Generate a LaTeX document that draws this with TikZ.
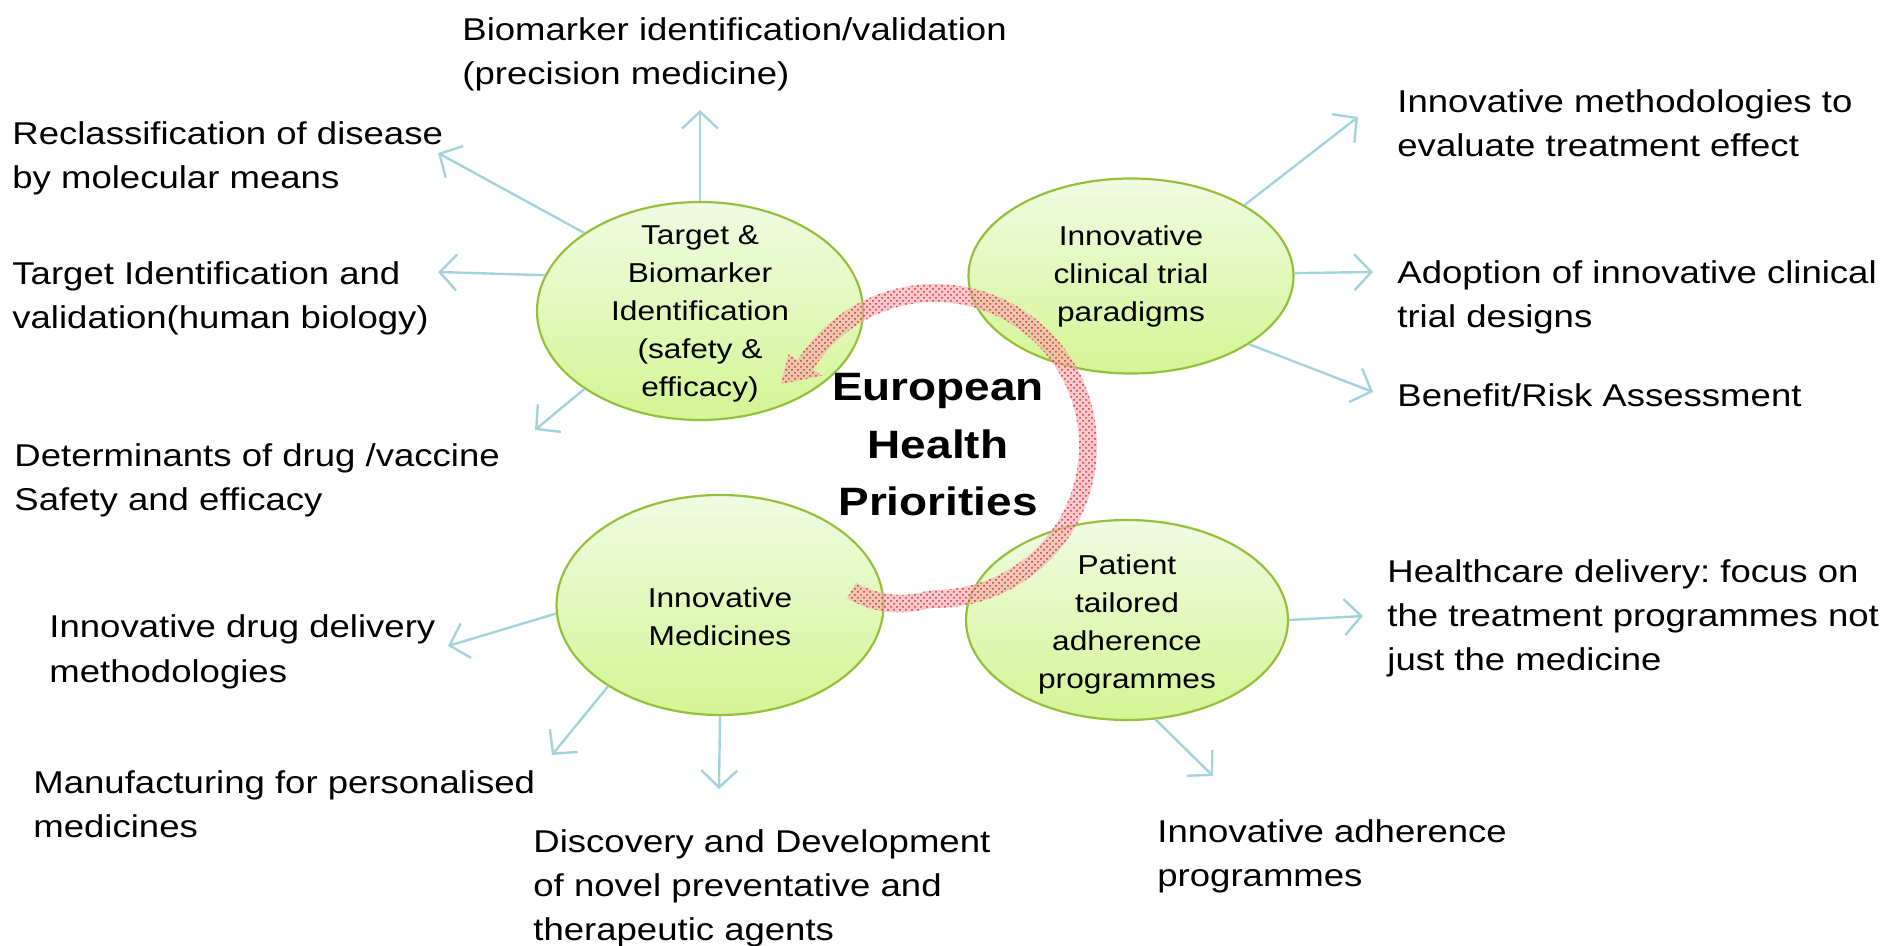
\documentclass[tikz,border=0pt]{standalone}
\usepackage{fontspec}
\setmainfont[FakeStretch=1.16]{Liberation Sans}
\usetikzlibrary{arrows.meta,shapes.geometric,patterns}
\frenchspacing
\definecolor{arrowblue}{RGB}{165,211,220}
\definecolor{ellborder}{RGB}{150,192,60}
\definecolor{elltop}{RGB}{240,251,226}
\definecolor{ellbot}{RGB}{212,245,148}
\definecolor{bandpink}{RGB}{244,170,175}
\definecolor{banddot}{RGB}{228,40,50}
\begin{document}
\begin{tikzpicture}[x=0.5pt,y=-0.5pt,
  ell/.style={ellipse,draw=ellborder,line width=1.1pt,top color=elltop,bottom color=ellbot,inner sep=0pt},
  elltext/.style={align=center,inner sep=0pt,font=\fontsize{13.65pt}{19pt}\selectfont},
  lbl/.style={anchor=base west,align=left,inner sep=0pt,font=\fontsize{15.75pt}{22pt}\selectfont},
  conn/.style={draw=arrowblue,line width=1.2pt,-{Straight Barb[length=8.5pt,width=18pt,line width=1.2pt]}},
  title/.style={align=center,inner sep=0pt,font=\bfseries\fontsize{19.8pt}{28.75pt}\selectfont}
]
\useasboundingbox (0,0) rectangle (1891,946);

% ellipses
\node[ell,minimum width=163pt,minimum height=109pt] (e1) at (700,311) {};
\node[ell,minimum width=162.5pt,minimum height=97.5pt] (e2) at (1131,276) {};
\node[ell,minimum width=163.5pt,minimum height=110pt] (e3) at (720,605) {};
\node[ell,minimum width=161pt,minimum height=100pt] (e4) at (1127,620) {};

\node[elltext] (e1t) at (700,314) {Target \&\\Biomarker\\Identification\\(safety \&\\efficacy)};
\node[elltext] (e2t) at (1131,276) {Innovative\\clinical trial\\paradigms};
\node[elltext] (e3t) at (720,617) {Innovative\\Medicines};
\node[elltext] (e4t) at (1127,624) {Patient\\tailored\\adherence\\programmes};

% circular band arrow (centre line radius 153, slight bulge near the tail)
\coordinate (tip) at (781,384);
\def\bandpath{
  plot[domain=120:-148,samples=100] ({935+(162+14*max(0,1-((\x-120)/28)^2))*cos(\x)},{446+(162+14*max(0,1-((\x-120)/28)^2))*sin(\x)})
  -- ({935+173*cos(-148)},{446+173*sin(-148)}) -- (tip)
  -- ({935+133*cos(-148)},{446+133*sin(-148)})
  -- plot[domain=-148:120,samples=100] ({935+(144+14*max(0,1-((\x-120)/28)^2))*cos(\x)},{446+(144+14*max(0,1-((\x-120)/28)^2))*sin(\x)}) -- cycle}
\fill[bandpink,fill opacity=0.6] \bandpath;
\fill[pattern=crosshatch dots,pattern color=banddot] \bandpath;

\node[title] (ctr) at (938,445) {European\\Health\\Priorities};

% labels
\node[lbl] (l1) at (462,85) {Biomarker identification/validation\\(precision medicine)};
\node[lbl] (l2) at (12,189) {Reclassification of disease\\by molecular means};
\node[lbl] (l3) at (12,329) {Target Identification and\\validation(human biology)};
\node[lbl] (l4) at (14,511) {Determinants of drug /vaccine\\Safety and efficacy};
\node[lbl] (l5) at (1397,157) {Innovative methodologies to\\evaluate treatment effect};
\node[lbl] (l6) at (1397,328) {Adoption of innovative clinical\\trial designs};
\node[lbl] (l7) at (1397,407) {Benefit/Risk Assessment};
\node[lbl] (l8) at (1387,670) {Healthcare delivery: focus on\\the treatment programmes not\\just the medicine};
\node[lbl] (l9) at (49,682) {Innovative drug delivery\\methodologies};
\node[lbl] (l10) at (33,837) {Manufacturing for personalised\\medicines};
\node[lbl] (l11) at (533,940) {Discovery and Development\\of novel preventative and\\therapeutic agents};
\node[lbl] (l12) at (1157,886) {Innovative adherence\\programmes};

% arrow ends
\coordinate (ta) at (700,110);
\coordinate (tb) at (438,153);
\coordinate (tc) at (438,272);
\coordinate (td) at (535,430);
\coordinate (te) at (1358,117);
\coordinate (tf) at (1373,272);
\coordinate (tg) at (1373,392);
\coordinate (th) at (1363,616);
\coordinate (ti) at (1213,776);
\coordinate (tj) at (448,646);
\coordinate (tk) at (552,755);
\coordinate (tl) at (719,789);

\draw[conn] (e1.90) -- (ta);
\draw[conn] (e1.146.5) -- (tb);
\draw[conn] (e1.167) -- (tc);
\draw[conn] (e1.214) -- (td);
\draw[conn] (e2.32.5) -- (te);
\draw[conn] (e2.1.4) -- (tf);
\draw[conn] (e2.-30) -- (tg);
\draw[conn] (e4.0) -- (th);
\draw[conn] (e4.286) -- (ti);
\draw[conn] (e3.183.5) -- (tj);
\draw[conn] (e3.216) -- (tk);
\draw[conn] (e3.270) -- (tl);
\end{tikzpicture}
\end{document}
